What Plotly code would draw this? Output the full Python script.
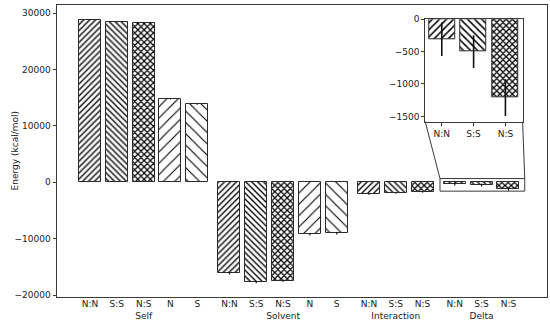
import plotly.graph_objects as go

# ---------------- data ----------------
groups = ["Self", "Solvent", "Interaction", "Delta"]
self_labels = ["N:N", "S:S", "N:S", "N", "S"]
self_vals = [28850, 28420, 28170, 14750, 13810]
self_err = [80, 80, 80, 80, 80]
solvent_labels = ["N:N", "S:S", "N:S", "N", "S"]
solvent_vals = [-16150, -17700, -17460, -9240, -9060]
solvent_err = [200, 200, 200, 200, 200]
inter_labels = ["N:N", "S:S", "N:S"]
inter_vals = [-2150, -1970, -1790]
inter_err = [60, 60, 60]
delta_labels = ["N:N", "S:S", "N:S"]
delta_vals = [-309, -500, -1210]
delta_err = [258, 253, 283]

ytick_vals = [-20000, -10000, 0, 10000, 20000, 30000]
inset_ytick_vals = [0, -500, -1000, -1500]

# ---------------- layout helpers ----------------
GAP = 0.2
xs, labels, vals, errs, shapes_p, sizes, solid = [], [], [], [], [], [], []
pos = 0.0
all_groups = [
    ("Self", self_labels, self_vals, self_err, 2),
    ("Solvent", solvent_labels, solvent_vals, solvent_err, 2),
    ("Interaction", inter_labels, inter_vals, inter_err, 1),
    ("Delta", delta_labels, delta_vals, delta_err, 1),
]
pat_map = {"N:N": ("/", 4.2, 0.32), "S:S": ("\\", 4.2, 0.32), "N:S": ("x", 4.4, 0.48),
           "N": ("/", 8.0, 0.14), "S": ("\\", 8.0, 0.14)}
delta_x = []
for gi, (g, labs, vs, es, mid) in enumerate(all_groups):
    for i, (l, v, e) in enumerate(zip(labs, vs, es)):
        xs.append(pos)
        txt = l + ("<br>" + g if i == mid else "")
        labels.append(txt)
        vals.append(v)
        errs.append(e)
        shapes_p.append(pat_map[l][0])
        sizes.append(pat_map[l][1])
        solid.append(pat_map[l][2])
        if g == "Delta":
            delta_x.append(pos)
        pos += 1
    pos += GAP

XR = [-1.23, 17.04]
YR = [-20350, 31420]
BW = 0.82
FONT = "DejaVu Sans"
AX = "#3a3a3a"
FS = 9

fig = go.Figure()
fig.add_trace(go.Bar(
    x=xs, y=vals, width=BW,
    marker=dict(color="white", line=dict(color="#2a2a2a", width=1),
                pattern=dict(shape=shapes_p, size=sizes, solidity=solid,
                             fgcolor="#000", bgcolor="white", fgopacity=1)),
    error_y=dict(type="data", array=errs, color="#111", thickness=1.2, width=0),
    xaxis="x", yaxis="y", showlegend=False,
))

# inset
ins_x = delta_x
fig.add_trace(go.Bar(
    x=ins_x, y=delta_vals, width=BW,
    marker=dict(color="white", line=dict(color="#2a2a2a", width=1),
                pattern=dict(shape=[pat_map[l][0] for l in delta_labels],
                             size=[5.0, 5.0, 4.4], solidity=[0.3, 0.3, 0.5],
                             fgcolor="#000", bgcolor="white", fgopacity=1)),
    error_y=dict(type="data", array=delta_err, color="#111", thickness=1.6, width=0),
    xaxis="x2", yaxis="y2", showlegend=False,
))

IXR = [13.08, 16.14]
IYR = [-1583, 0]
ins_dom_x = [0.7515, 0.9502]
ins_dom_y = [0.6003, 0.951]

def to_paper(x, y):
    return ((x - XR[0]) / (XR[1] - XR[0]), (y - YR[0]) / (YR[1] - YR[0]))

rx0, rx1, ry0, ry1 = 13.05, 16.21, -1583, 650
p_tl = to_paper(rx0, ry1)
p_tr = to_paper(rx1, ry1)

shapes = [
    dict(type="rect", xref="x", yref="y", x0=rx0, x1=rx1, y0=ry0, y1=ry1,
         line=dict(color=AX, width=1), fillcolor="rgba(0,0,0,0)"),
    dict(type="line", xref="paper", yref="paper", x0=ins_dom_x[0], y0=ins_dom_y[0],
         x1=p_tl[0], y1=p_tl[1], line=dict(color=AX, width=1)),
    dict(type="line", xref="paper", yref="paper", x0=ins_dom_x[1], y0=ins_dom_y[0],
         x1=p_tr[0], y1=p_tr[1], line=dict(color=AX, width=1)),
]

def neg(v):
    return ("\u2212" + str(-v)) if v < 0 else str(v)

fig.update_layout(
    template="none",
    width=550, height=321,
    margin=dict(l=57, r=3.3, t=5, b=24, pad=0),
    paper_bgcolor="white", plot_bgcolor="white",
    font=dict(family=FONT, size=FS, color="#222"),
    bargap=0,
    shapes=shapes,
    xaxis=dict(range=XR, tickvals=xs, ticktext=labels, showgrid=False, zeroline=False,
               showline=True, mirror=True, linecolor=AX, linewidth=1, automargin=False,
               ticks="", tickangle=0, ticklabelstandoff=-2),
    yaxis=dict(range=YR, tickvals=ytick_vals, ticktext=[neg(v) for v in ytick_vals],
               showgrid=False, zeroline=False, showline=True, mirror=True, automargin=False,
               linecolor=AX, linewidth=1, ticks="outside", ticklen=3.5, tickcolor=AX),
    xaxis2=dict(domain=ins_dom_x, anchor="y2", range=IXR, tickvals=ins_x, ticktext=delta_labels,
                showgrid=False, zeroline=False, showline=True, mirror=True, automargin=False,
                linecolor=AX, linewidth=1, ticks="outside", ticklen=3, tickcolor=AX, tickangle=0),
    yaxis2=dict(domain=ins_dom_y, anchor="x2", range=IYR, tickvals=inset_ytick_vals,
                ticktext=[neg(v) for v in inset_ytick_vals], automargin=False,
                showgrid=False, zeroline=False, showline=True, mirror=True,
                linecolor=AX, linewidth=1, ticks="outside", ticklen=3, tickcolor=AX),
    annotations=[dict(text="Energy (kcal/mol)", xref="paper", yref="paper",
                      x=(8 - 57) / 489.7, y=0.502, textangle=-90, showarrow=False,
                      font=dict(size=FS, color="#222"))],
)

fig.write_html("out.html", config={"displayModeBar": False},
               post_script="document.body.style.margin='0';document.body.style.overflow='hidden';")
